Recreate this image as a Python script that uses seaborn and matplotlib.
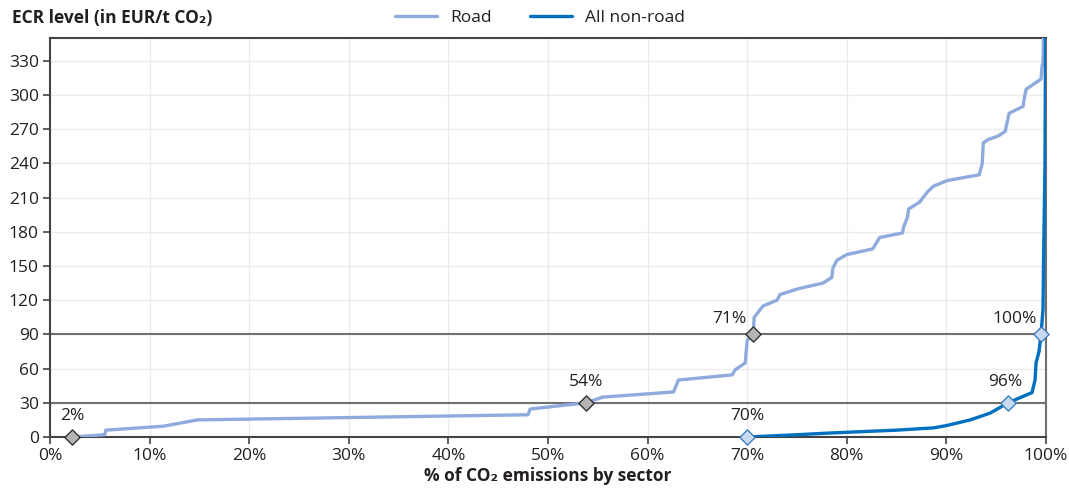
import matplotlib
matplotlib.use("Agg")
import matplotlib.pyplot as plt
import seaborn as sns
import pandas as pd

# ---- data ----
road_x = [2.2, 5.5, 5.6, 11.4, 14.8, 48.0, 48.2, 53.8, 55.5, 62.6, 63.1, 68.5, 68.8, 69.8, 70.0, 70.6,
          70.7, 71.6, 73.0, 73.3, 75.1, 77.6, 78.5, 78.6, 79.0, 80.0, 82.6, 83.3, 85.6, 85.7, 86.1, 86.2,
          87.3, 88.1, 88.7, 90.1, 93.3, 93.6, 93.7, 94.2, 95.2, 95.9, 96.3, 97.7, 97.8, 98.0, 99.5, 99.6,
          99.7, 99.75]
road_y = [0, 2, 6, 9.5, 15, 19.5, 24.5, 30, 35, 39.5, 50, 54.5, 59, 65, 85, 90,
          105, 115, 120, 125, 130, 135, 140, 148, 155, 160, 165, 175, 179, 184, 193, 200,
          206, 215, 220, 225, 230, 240, 258, 261, 264, 268, 284, 290, 296, 305, 314, 325,
          329, 350]

nonroad_x = [70.0, 75.0, 78.3, 85.0, 88.7, 90.0, 92.4, 94.4, 96.2, 98.6, 98.9, 99.0, 99.3, 99.5,
             99.7, 99.75, 99.9, 99.95]
nonroad_y = [0, 2, 3.5, 6, 8, 10, 15, 21, 30, 39, 50, 65, 75, 90, 112, 152, 240, 350]

road_mark_x = [2.2, 53.8, 70.6]
road_mark_y = [0, 30, 90]
road_mark_lbl = ["2%", "54%", "71%"]
nonroad_mark_x = [70.0, 96.2, 99.5]
nonroad_mark_y = [0, 30, 90]
nonroad_mark_lbl = ["70%", "96%", "100%"]

ref_levels = [30, 90]
y_ticks = list(range(0, 331, 30))
x_ticks = list(range(0, 101, 10))

ROAD_C = "#8faadc"
NONROAD_C = "#0070c0"

sns.set_theme(style="white")
plt.rcParams["font.family"] = ["Open Sans", "DejaVu Sans"]
TXT = "#231f20"
FS = 12.5

fig = plt.figure(figsize=(10.69, 4.88), dpi=100)
ax = fig.add_axes([50 / 1069, 51 / 488, 996 / 1069, 399 / 488])

# grid
for xv in x_ticks:
    ax.axvline(xv, color="#ebebeb", lw=1, zorder=0)
for yv in y_ticks:
    ax.axhline(yv, color="#ebebeb", lw=1, zorder=0)
for yv in ref_levels:
    ax.axhline(yv, color="#707070", lw=1.5, zorder=1)

road_df = pd.DataFrame({"x": road_x, "y": road_y})
nr_df = pd.DataFrame({"x": nonroad_x, "y": nonroad_y})
sns.lineplot(data=road_df, x="x", y="y", ax=ax, color=ROAD_C, lw=2.4, sort=False,
             estimator=None, label="Road", zorder=3)
sns.lineplot(data=nr_df, x="x", y="y", ax=ax, color=NONROAD_C, lw=2.4, sort=False,
             estimator=None, label="All non-road", zorder=4)

sns.scatterplot(x=road_mark_x, y=road_mark_y, ax=ax, marker="D", s=60, color="#b4b4b4",
                edgecolor="#333333", linewidth=1, zorder=6, clip_on=False)
sns.scatterplot(x=nonroad_mark_x, y=nonroad_mark_y, ax=ax, marker="D", s=60, color="#c9daf0",
                edgecolor="#3b7fc4", linewidth=1, zorder=6, clip_on=False)

offsets_road = [(0, 9), (0, 9), (-17, 5)]
for x, y, t, off in zip(road_mark_x, road_mark_y, road_mark_lbl, offsets_road):
    ax.annotate(t, (x, y), xytext=off, textcoords="offset points", ha="center", va="bottom",
                fontsize=FS, color=TXT)
offsets_nr = [(0, 9), (-2, 9), (-19, 5)]
for x, y, t, off in zip(nonroad_mark_x, nonroad_mark_y, nonroad_mark_lbl, offsets_nr):
    ax.annotate(t, (x, y), xytext=off, textcoords="offset points", ha="center", va="bottom",
                fontsize=FS, color=TXT)

ax.set_xlim(0, 100)
ax.set_ylim(0, 350)
ax.set_xticks(x_ticks)
ax.set_xticklabels([f"{v}%" for v in x_ticks])
ax.set_yticks(y_ticks)
ax.set_yticklabels([str(v) for v in y_ticks])
ax.tick_params(axis="both", which="both", direction="out", length=5, width=1.2,
               color="#444444", labelsize=FS, labelcolor=TXT, pad=3)
ax.tick_params(axis="x", bottom=True)
ax.tick_params(axis="y", left=True)

for side in ["left", "bottom", "top"]:
    ax.spines[side].set_visible(True)
    ax.spines[side].set_color("#444444")
    ax.spines[side].set_linewidth(1.5)
ax.spines["right"].set_visible(True)
ax.spines["right"].set_color("#707070")
ax.spines["right"].set_linewidth(1.5)

ax.set_xlabel("% of CO₂ emissions by sector", fontsize=FS, fontweight="bold", color=TXT,
              labelpad=2)
ax.set_ylabel("")

fig.text(12 / 1069, 1 - 18 / 488, "ECR level (in EUR/t CO₂)", fontsize=FS, fontweight="bold",
         color=TXT, ha="left", va="center")

handles, labels = ax.get_legend_handles_labels()
ax.get_legend().remove()
fig.legend(handles, labels, loc="center", bbox_to_anchor=(540 / 1069, 1 - 18 / 488), ncol=2,
           frameon=False, fontsize=FS, handlelength=2.4, columnspacing=2.2, handletextpad=0.75,
           labelcolor=TXT)

fig.savefig("out.png", dpi=100)
